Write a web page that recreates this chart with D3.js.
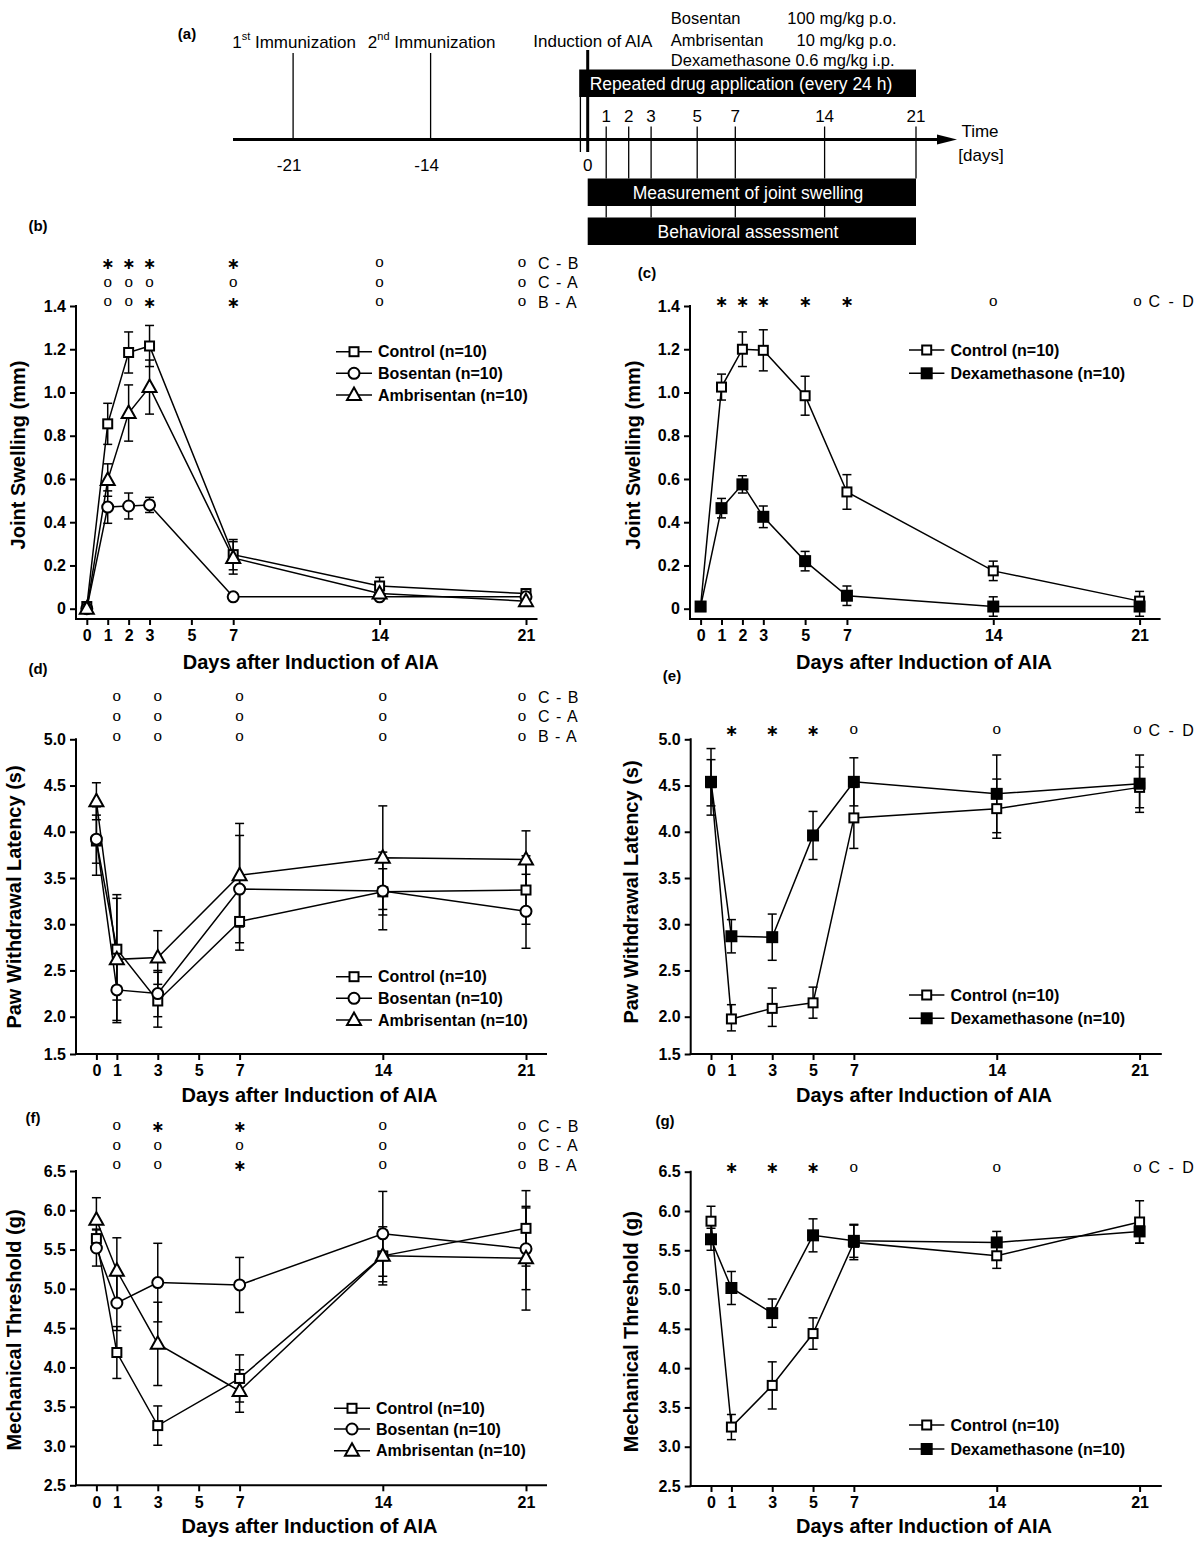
<!DOCTYPE html>
<html><head><meta charset="utf-8">
<script src="https://cdn.jsdelivr.net/npm/d3@7/dist/d3.min.js"></script>
<style>
body{margin:0;background:#fff}
svg{display:block}
</style></head><body>
<svg id="fig" width="1200" height="1541"></svg>
<script>
// ================= DATA =================
// (a) timeline
const timelineDays = [-21, -14, 0, 1, 2, 3, 5, 7, 14, 21];
const timelineTopDays = [1, 2, 3, 5, 7, 14, 21];
const timelineBehaviorDays = [1, 3, 7, 14];
const timelineBelowDays = [-21, -14, 0];
const drugNames = ["Bosentan", "Ambrisentan", "Dexamethasone 0.6 mg/kg i.p."];
const drugDoses = ["100 mg/kg p.o.", "10 mg/kg p.o.", ""];

const groupsEt = ["Control (n=10)", "Bosentan (n=10)", "Ambrisentan (n=10)"];
const groupsDex = ["Control (n=10)", "Dexamethasone (n=10)"];
const compLabelsEt = ["C - B", "C - A", "B - A"];
const compLabelsDex = ["C - D"];

// ticks
const xTicksSwell = [0, 1, 2, 3, 5, 7, 14, 21];
const xTicksBehav = [0, 1, 3, 5, 7, 14, 21];
const yTicksSwell = [0, 0.2, 0.4, 0.6, 0.8, 1.0, 1.2, 1.4];
const yTicksPaw = [1.5, 2.0, 2.5, 3.0, 3.5, 4.0, 4.5, 5.0];
const yTicksMech = [2.5, 3.0, 3.5, 4.0, 4.5, 5.0, 5.5, 6.0, 6.5];

// (b) joint swelling, ET antagonists
const daysB = [0, 1, 2, 3, 7, 14, 21];
const swellCtrlB = [0.01, 0.855, 1.185, 1.215, 0.25, 0.105, 0.07];
const swellCtrlBSem = [0.01, 0.095, 0.095, 0.095, 0.07, 0.04, 0.02];
const swellBosB = [0.0, 0.47, 0.475, 0.48, 0.055, 0.055, 0.055];
const swellBosBSem = [0.01, 0.075, 0.06, 0.035, 0.01, 0.01, 0.01];
const swellAmbB = [0.0, 0.595, 0.905, 1.025, 0.235, 0.07, 0.035];
const swellAmbBSem = [0.01, 0.075, 0.13, 0.125, 0.075, 0.02, 0.015];
const sigDaysB = [1, 2, 3, 7, 14, 21];
const sigB = [["*", "o", "o"], ["*", "o", "o"], ["*", "o", "*"], ["*", "o", "*"], ["o", "o", "o"], ["o", "o", "o"]];

// (c) joint swelling, dexamethasone
const daysC = [0, 1, 2, 3, 5, 7, 14, 21];
const swellCtrlC = [0.01, 1.025, 1.2, 1.195, 0.985, 0.54, 0.175, 0.035];
const swellCtrlCSem = [0.01, 0.06, 0.08, 0.095, 0.09, 0.08, 0.045, 0.045];
const swellDexC = [0.01, 0.465, 0.575, 0.425, 0.22, 0.06, 0.01, 0.01];
const swellDexCSem = [0.01, 0.045, 0.04, 0.05, 0.045, 0.045, 0.045, 0.045];
const sigDaysC = [1, 2, 3, 5, 7, 14, 21];
const sigC = [["*"], ["*"], ["*"], ["*"], ["*"], ["o"], ["o"]];

// (d) paw withdrawal latency, ET antagonists
const daysD = [0, 1, 3, 7, 14, 21];
const pawCtrlD = [3.9, 2.73, 2.17, 3.03, 3.35, 3.37];
const pawCtrlDSem = [0.37, 0.55, 0.31, 0.31, 0.25, 0.37];
const pawBosD = [3.92, 2.29, 2.25, 3.38, 3.36, 3.14];
const pawBosDSem = [0.26, 0.34, 0.25, 0.58, 0.42, 0.4];
const pawAmbD = [4.33, 2.62, 2.64, 3.53, 3.72, 3.7];
const pawAmbDSem = [0.2, 0.7, 0.29, 0.56, 0.56, 0.31];
const sigDaysD = [1, 3, 7, 14, 21];
const sigD = [["o", "o", "o"], ["o", "o", "o"], ["o", "o", "o"], ["o", "o", "o"], ["o", "o", "o"]];

// (e) paw withdrawal latency, dexamethasone
const daysE = [0, 1, 3, 5, 7, 14, 21];
const pawCtrlE = [4.53, 1.97, 2.09, 2.15, 4.15, 4.25, 4.48];
const pawCtrlESem = [0.25, 0.16, 0.22, 0.17, 0.33, 0.32, 0.22];
const pawDexE = [4.54, 2.87, 2.86, 3.96, 4.54, 4.41, 4.52];
const pawDexESem = [0.36, 0.18, 0.25, 0.26, 0.26, 0.42, 0.31];
const sigDaysE = [1, 3, 5, 7, 14, 21];
const sigE = [["*"], ["*"], ["*"], ["o"], ["o"], ["o"]];

// (f) mechanical threshold, ET antagonists
const daysF = [0, 1, 3, 7, 14, 21];
const mechCtrlF = [5.64, 4.19, 3.26, 3.86, 5.42, 5.77];
const mechCtrlFSem = [0.12, 0.33, 0.25, 0.3, 0.37, 0.48];
const mechBosF = [5.52, 4.82, 5.08, 5.05, 5.7, 5.51];
const mechBosFSem = [0.23, 0.35, 0.5, 0.35, 0.54, 0.52];
const mechAmbF = [5.88, 5.23, 4.3, 3.7, 5.42, 5.39];
const mechAmbFSem = [0.28, 0.42, 0.53, 0.27, 0.33, 0.66];
const sigDaysF = [1, 3, 7, 14, 21];
const sigF = [["o", "o", "o"], ["*", "o", "o"], ["*", "o", "*"], ["o", "o", "o"], ["o", "o", "o"]];

// (g) mechanical threshold, dexamethasone
const daysG = [0, 1, 3, 5, 7, 14, 21];
const mechCtrlG = [5.87, 3.25, 3.78, 4.44, 5.6, 5.43, 5.86];
const mechCtrlGSem = [0.19, 0.16, 0.3, 0.2, 0.22, 0.16, 0.27];
const mechDexG = [5.64, 5.02, 4.7, 5.69, 5.62, 5.6, 5.74];
const mechDexGSem = [0.14, 0.21, 0.18, 0.21, 0.21, 0.14, 0.15];
const sigDaysG = [1, 3, 5, 7, 14, 21];
const sigG = [["*"], ["*"], ["*"], ["o"], ["o"], ["o"]];

// ================= DRAWING =================
const svg = d3.select("#fig");
const SANS = '"Liberation Sans", Arial, Helvetica, sans-serif';
const SERIF = '"Liberation Serif", "Times New Roman", serif';
const STAR_FONT = '"DejaVu Sans", "Liberation Sans", sans-serif';

function txt(p, x, y, s, o = {}) {
  const t = p.append("text").attr("x", x).attr("y", y)
    .attr("font-family", o.family || SANS)
    .attr("font-size", o.size || 16)
    .attr("font-weight", o.weight || "normal")
    .attr("text-anchor", o.anchor || "start")
    .attr("dominant-baseline", o.baseline || "central")
    .attr("fill", o.fill || "#000");
  if (o.rotate) t.attr("transform", `rotate(${o.rotate},${x},${y})`);
  if (o.wordSpacing != null) t.attr("word-spacing", o.wordSpacing);
  if (s != null) t.text(s);
  return t;
}

function line(p, x1, y1, x2, y2, w) {
  return p.append("line").attr("x1", x1).attr("y1", y1).attr("x2", x2).attr("y2", y2)
    .attr("stroke", "#000").attr("stroke-width", w || 1.5);
}

function drawMarker(p, type, filled, cx, cy) {
  const fill = filled ? "#000" : "#fff";
  if (type === "square") {
    const s = filled ? 10 : 9;
    p.append("rect").attr("x", cx - s / 2).attr("y", cy - s / 2).attr("width", s).attr("height", s)
      .attr("fill", fill).attr("stroke", "#000").attr("stroke-width", 2);
  } else if (type === "circle") {
    p.append("circle").attr("cx", cx).attr("cy", cy).attr("r", 5.5)
      .attr("fill", fill).attr("stroke", "#000").attr("stroke-width", 2);
  } else {
    p.append("path").attr("d", `M${cx},${cy - 7.5}L${cx + 7},${cy + 5}L${cx - 7},${cy + 5}Z`)
      .attr("fill", fill).attr("stroke", "#000").attr("stroke-width", 2).attr("stroke-linejoin", "miter");
  }
}

function drawPanel(cfg) {
  const g = svg.append("g");
  const x = d3.scaleLinear().domain([0, 21]).range([cfg.x0, cfg.x21]);
  const y = d3.scaleLinear().domain(cfg.yDomain).range(cfg.yRange);
  const yTop = y(cfg.yTicks[cfg.yTicks.length - 1]);

  // axes
  const ya = g.append("g").attr("transform", `translate(${cfg.axisLeft},0)`)
    .call(d3.axisLeft(y).tickValues(cfg.yTicks).tickFormat(cfg.yFormat).tickSize(6).tickPadding(4));
  const xa = g.append("g").attr("transform", `translate(0,${cfg.axisY})`)
    .call(d3.axisBottom(x).tickValues(cfg.xTicks).tickFormat(d3.format("d")).tickSize(6).tickPadding(5));
  [ya, xa].forEach(a => {
    a.select(".domain").remove();
    a.selectAll(".tick line").attr("stroke", "#000").attr("stroke-width", 2);
    a.selectAll(".tick text").attr("font-family", SANS).attr("font-size", 16)
      .attr("font-weight", "bold").attr("fill", "#000");
  });
  line(g, cfg.axisLeft, yTop - 1, cfg.axisLeft, cfg.axisY + 1, 2);
  line(g, cfg.axisLeft - 1, cfg.axisY, cfg.axisRight, cfg.axisY, 2);

  // titles
  txt(g, cfg.yTitleX, cfg.yTitleY, cfg.yTitle, { size: 20, weight: "bold", anchor: "middle", rotate: -90 });
  txt(g, cfg.xTitleX, cfg.xTitleY, "Days after Induction of AIA", { size: 20, weight: "bold", anchor: "middle" });
  txt(g, cfg.labelX, cfg.labelY, cfg.label, { size: 15, weight: "bold", anchor: "middle" });

  // series
  const series = cfg.series.map(s => s.values.map((v, i) => ({ day: s.days[i], v, e: s.sem[i] })));
  const ln = d3.line().x(d => x(d.day)).y(d => y(d.v));
  series.forEach(pts => {
    g.append("path").attr("d", ln(pts)).attr("fill", "none").attr("stroke", "#000").attr("stroke-width", 1.5);
  });
  series.forEach(pts => {
    pts.forEach(d => {
      const xx = x(d.day), y1 = y(d.v + d.e), y2 = y(d.v - d.e);
      line(g, xx, y1, xx, y2, 1.5);
      line(g, xx - 4.5, y1, xx + 4.5, y1, 1.5);
      line(g, xx - 4.5, y2, xx + 4.5, y2, 1.5);
    });
  });
  series.forEach((pts, k) => {
    const s = cfg.series[k];
    pts.forEach(d => drawMarker(g, s.marker, s.filled, x(d.day), y(d.v)));
  });

  // legend
  cfg.series.forEach((s, k) => {
    const ly = cfg.legendRows[k];
    line(g, cfg.legendX0, ly, cfg.legendX1, ly, 1.5);
    drawMarker(g, s.marker, s.filled, (cfg.legendX0 + cfg.legendX1) / 2, ly);
    txt(g, cfg.legendX1 + 6, ly, s.name, { size: 16, weight: "bold" });
  });

  // significance markers: one text element per day column
  cfg.sigDays.forEach((day, i) => {
    const last = day === 21;
    const sx = x(day) + (last ? cfg.sigLastShift : 0);
    const t = g.append("text").attr("text-anchor", "middle").attr("fill", "#000");
    cfg.sig[i].forEach((sym, r) => {
      const ry = cfg.sigRows[r];
      if (sym === "*") {
        t.append("tspan").attr("x", sx).attr("y", ry + 5.6).attr("font-family", STAR_FONT)
          .attr("font-size", 16).attr("font-weight", "bold").text("\u2217");
      } else {
        t.append("tspan").attr("x", sx).attr("y", ry + 4.2).attr("font-family", SERIF)
          .attr("font-size", 17).text("o");
      }
    });
    if (last) {
      const lt = g.append("text").attr("font-family", SANS).attr("font-size", 16)
        .attr("fill", "#000").attr("word-spacing", cfg.compSpacing);
      cfg.compLabels.forEach((lab, r) => {
        lt.append("tspan").attr("x", sx + cfg.compGap).attr("y", cfg.sigRows[r] + 5.7).text(lab);
      });
    }
  });
}

const fmtSwell = d => (d === 0 ? "0" : d.toFixed(1));
const fmt1 = d => d.toFixed(1);

// ---- (a) timeline ----
(function drawTimeline() {
  const g = svg.append("g");
  const tx = d3.scaleLinear().domain(timelineDays)
    .range([293.1, 430.6, 587.7, 606.2, 628.7, 651.1, 697.2, 735.3, 824.6, 916]);
  const axY = 139.5;
  const T = 17;

  txt(g, 187, 33.5, "(a)", { size: 15, weight: "bold", anchor: "middle" });

  // drug list
  drugNames.forEach((n, i) => {
    const yy = [17.5, 40, 60][i];
    txt(g, 670.8, yy, n, { size: 16.5 });
    if (drugDoses[i]) txt(g, 896.5, yy, drugDoses[i], { size: 16.5, anchor: "end" });
  });

  // repeated application bar
  g.append("rect").attr("x", tx(0) - 8.5).attr("y", 69.5).attr("width", tx(21) - tx(0) + 8.5)
    .attr("height", 27.5).attr("fill", "#000");
  txt(g, 741, 83.5, "Repeated drug application (every 24 h)", { size: 17.5, anchor: "middle", fill: "#fff" });

  // measurement bars
  g.append("rect").attr("x", tx(0)).attr("y", 178.5).attr("width", tx(21) - tx(0))
    .attr("height", 27.5).attr("fill", "#000");
  txt(g, 748, 193, "Measurement of joint swelling", { size: 17.5, anchor: "middle", fill: "#fff" });
  g.append("rect").attr("x", tx(0)).attr("y", 217.5).attr("width", tx(21) - tx(0))
    .attr("height", 27.5).attr("fill", "#000");
  txt(g, 748, 231.5, "Behavioral assessment", { size: 17.5, anchor: "middle", fill: "#fff" });

  // immunization ticks and labels
  [-21, -14].forEach(d => line(g, tx(d), 53, tx(d), axY, 1.3));
  const imm = [["1", "st"], ["2", "nd"]];
  [-21, -14].forEach((d, i) => {
    const t = txt(g, tx(d) + 1, 41.5, null, { size: T, anchor: "middle" });
    t.append("tspan").text(imm[i][0]);
    t.append("tspan").attr("baseline-shift", "super").attr("font-size", 11).text(imm[i][1]);
    t.append("tspan").text(" Immunization");
  });
  txt(g, 592.8, 41.5, "Induction of AIA", { size: T, anchor: "middle" });

  // day ticks after induction
  timelineTopDays.forEach(d => {
    line(g, tx(d), 126.5, tx(d), 178.5, 1.3);
    txt(g, tx(d), 116.5, String(d), { size: T, anchor: "middle" });
  });
  timelineBehaviorDays.forEach(d => line(g, tx(d), 206, tx(d), 217.5, 1.3));

  // day 0 lines
  line(g, tx(0), 50, tx(0), 152, 3);
  line(g, tx(0) - 7.3, 97, tx(0) - 7.3, 152, 1.3);

  // axis and arrow
  line(g, 233, axY, 940, axY, 3);
  g.append("path").attr("d", `M957,${axY}L937,${axY - 5}L937,${axY + 5}Z`).attr("fill", "#000");
  timelineBelowDays.forEach(d => {
    txt(g, tx(d) - (d < 0 ? 4 : 0), 165, String(d), { size: T, anchor: "middle" });
  });
  txt(g, 980, 131.5, "Time", { size: T, anchor: "middle" });
  txt(g, 981, 155, "[days]", { size: T, anchor: "middle" });
})();

// ---- (b) ----
drawPanel({
  label: "(b)", labelX: 38, labelY: 225,
  x0: 86.8, x21: 526, axisLeft: 76, axisRight: 537.5, axisY: 619,
  yDomain: [0, 1.4], yRange: [608.7, 306], yTicks: yTicksSwell, yFormat: fmtSwell, xTicks: xTicksSwell,
  yTitle: "Joint Swelling (mm)", yTitleX: 18, yTitleY: 455, xTitleX: 310.7, xTitleY: 661.7,
  series: [
    { name: groupsEt[0], days: daysB, values: swellCtrlB, sem: swellCtrlBSem, marker: "square", filled: false },
    { name: groupsEt[1], days: daysB, values: swellBosB, sem: swellBosBSem, marker: "circle", filled: false },
    { name: groupsEt[2], days: daysB, values: swellAmbB, sem: swellAmbBSem, marker: "triangle", filled: false }
  ],
  legendX0: 336, legendX1: 372, legendRows: [351.7, 373.3, 395],
  sigDays: sigDaysB, sig: sigB, sigRows: [263, 282.5, 302], compLabels: compLabelsEt,
  sigLastShift: -4, compGap: 16, compSpacing: 2
});

// ---- (c) ----
drawPanel({
  label: "(c)", labelX: 647, labelY: 272,
  x0: 700.6, x21: 1139.6, axisLeft: 690, axisRight: 1160.6, axisY: 619,
  yDomain: [0, 1.4], yRange: [608.7, 306], yTicks: yTicksSwell, yFormat: fmtSwell, xTicks: xTicksSwell,
  yTitle: "Joint Swelling (mm)", yTitleX: 632.5, yTitleY: 455, xTitleX: 924, xTitleY: 661.7,
  series: [
    { name: groupsDex[0], days: daysC, values: swellCtrlC, sem: swellCtrlCSem, marker: "square", filled: false },
    { name: groupsDex[1], days: daysC, values: swellDexC, sem: swellDexCSem, marker: "square", filled: true }
  ],
  legendX0: 909, legendX1: 944.4, legendRows: [350, 373.3],
  sigDays: sigDaysC, sig: sigC, sigRows: [301.7], compLabels: compLabelsDex,
  sigLastShift: -2, compGap: 11, compSpacing: 4
});

// ---- (d) ----
drawPanel({
  label: "(d)", labelX: 38, labelY: 668,
  x0: 96.4, x21: 526, axisLeft: 76, axisRight: 547, axisY: 1054,
  yDomain: [1.5, 2.0, 5.0], yRange: [1054, 1016.7, 739.3], yTicks: yTicksPaw, yFormat: fmt1, xTicks: xTicksBehav,
  yTitle: "Paw Withdrawal Latency (s)", yTitleX: 14, yTitleY: 897, xTitleX: 309.6, xTitleY: 1095,
  series: [
    { name: groupsEt[0], days: daysD, values: pawCtrlD, sem: pawCtrlDSem, marker: "square", filled: false },
    { name: groupsEt[1], days: daysD, values: pawBosD, sem: pawBosDSem, marker: "circle", filled: false },
    { name: groupsEt[2], days: daysD, values: pawAmbD, sem: pawAmbDSem, marker: "triangle", filled: false }
  ],
  legendX0: 336, legendX1: 372, legendRows: [976.7, 998.3, 1020],
  sigDays: sigDaysD, sig: sigD, sigRows: [697, 716.5, 736.5], compLabels: compLabelsEt,
  sigLastShift: -4, compGap: 16, compSpacing: 2
});

// ---- (e) ----
drawPanel({
  label: "(e)", labelX: 672, labelY: 675,
  x0: 711, x21: 1139.6, axisLeft: 690.7, axisRight: 1161.8, axisY: 1054,
  yDomain: [1.5, 2.0, 5.0], yRange: [1054, 1016.7, 739.3], yTicks: yTicksPaw, yFormat: fmt1, xTicks: xTicksBehav,
  yTitle: "Paw Withdrawal Latency (s)", yTitleX: 630.6, yTitleY: 892, xTitleX: 924, xTitleY: 1095,
  series: [
    { name: groupsDex[0], days: daysE, values: pawCtrlE, sem: pawCtrlESem, marker: "square", filled: false },
    { name: groupsDex[1], days: daysE, values: pawDexE, sem: pawDexESem, marker: "square", filled: true }
  ],
  legendX0: 909, legendX1: 944.4, legendRows: [995, 1018.3],
  sigDays: sigDaysE, sig: sigE, sigRows: [730], compLabels: compLabelsDex,
  sigLastShift: -2, compGap: 11, compSpacing: 4
});

// ---- (f) ----
drawPanel({
  label: "(f)", labelX: 33, labelY: 1117,
  x0: 96.4, x21: 526, axisLeft: 76, axisRight: 547, axisY: 1485.3,
  yDomain: [2.5, 6.5], yRange: [1485.3, 1171], yTicks: yTicksMech, yFormat: fmt1, xTicks: xTicksBehav,
  yTitle: "Mechanical Threshold (g)", yTitleX: 14, yTitleY: 1330, xTitleX: 309.6, xTitleY: 1526,
  series: [
    { name: groupsEt[0], days: daysF, values: mechCtrlF, sem: mechCtrlFSem, marker: "square", filled: false },
    { name: groupsEt[1], days: daysF, values: mechBosF, sem: mechBosFSem, marker: "circle", filled: false },
    { name: groupsEt[2], days: daysF, values: mechAmbF, sem: mechAmbFSem, marker: "triangle", filled: false }
  ],
  legendX0: 334, legendX1: 370, legendRows: [1408.3, 1429, 1450.7],
  sigDays: sigDaysF, sig: sigF, sigRows: [1126, 1145.5, 1165], compLabels: compLabelsEt,
  sigLastShift: -4, compGap: 16, compSpacing: 2
});

// ---- (g) ----
drawPanel({
  label: "(g)", labelX: 665, labelY: 1120,
  x0: 711, x21: 1139.6, axisLeft: 690.7, axisRight: 1161.8, axisY: 1486,
  yDomain: [2.5, 6.5], yRange: [1486, 1171.7], yTicks: yTicksMech, yFormat: fmt1, xTicks: xTicksBehav,
  yTitle: "Mechanical Threshold (g)", yTitleX: 630.6, yTitleY: 1331.7, xTitleX: 924, xTitleY: 1526,
  series: [
    { name: groupsDex[0], days: daysG, values: mechCtrlG, sem: mechCtrlGSem, marker: "square", filled: false },
    { name: groupsDex[1], days: daysG, values: mechDexG, sem: mechDexGSem, marker: "square", filled: true }
  ],
  legendX0: 909, legendX1: 944.4, legendRows: [1425, 1449],
  sigDays: sigDaysG, sig: sigG, sigRows: [1167.3], compLabels: compLabelsDex,
  sigLastShift: -2, compGap: 11, compSpacing: 4
});
</script>
</body></html>
